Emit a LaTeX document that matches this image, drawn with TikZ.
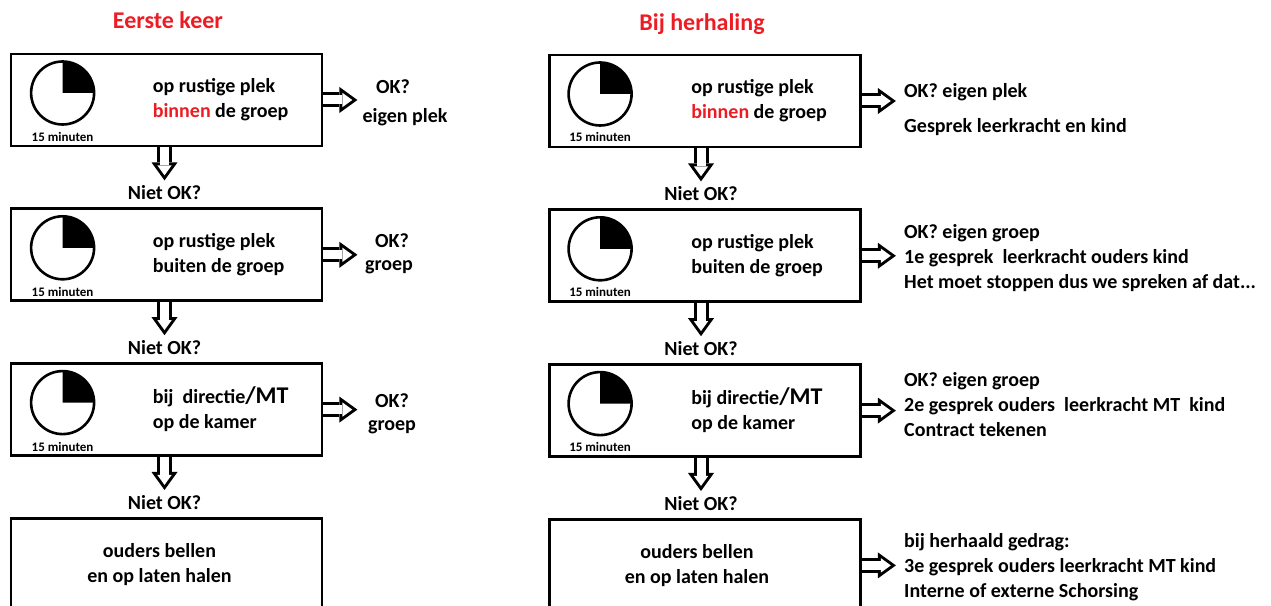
\documentclass[tikz,border=0pt]{standalone}
\usepackage{fontspec}
\setmainfont{Carlito}
\usetikzlibrary{arrows.meta,positioning,calc}
\definecolor{rood}{RGB}{237,28,36}
\tikzset{
  blok/.style={draw, line width=2.8pt, minimum width=311pt, minimum height=92pt},
  tekst/.style={font=\bfseries\fontsize{20}{25}\selectfont, inner sep=0pt},
  klein/.style={font=\bfseries\fontsize{13}{15}\selectfont, inner sep=0pt},
  titel/.style={font=\bfseries\fontsize{24}{28}\selectfont, text=rood, inner sep=0pt},
  pijl/.style={line width=15pt, -{Triangle[length=18pt,width=26pt,line width=0pt]},
    postaction={draw=white, line width=9pt, shorten >=5.1pt, -{Triangle[length=9.9pt,width=14.3pt,line width=0pt]}}}
}

\begin{document}
\begin{tikzpicture}[x=1pt, y=1pt]
\useasboundingbox (0,0) rectangle (1271,605);

\node[titel] (t1) at (168,585) {Eerste keer};
\node[titel] (t2) at (702,581) {Bij herhaling};

% eerste keer
\node[blok] (L1) at (166.5,505) {};
\node[blok, below=60pt of L1] (L2) {};
\node[blok, below=60pt of L2] (L3) {};
\node[blok, below=60pt of L3] (L4) {};

\coordinate (kL1) at ($(L1.west)+(53,7)$);
\coordinate (kL2) at ($(L2.west)+(53,7)$);
\coordinate (kL3) at ($(L3.west)+(53,7)$);
\fill (kL1) -- ++(0,31.5) arc[start angle=90, end angle=0, radius=31.5pt] -- cycle;
\fill (kL2) -- ++(0,31.5) arc[start angle=90, end angle=0, radius=31.5pt] -- cycle;
\fill (kL3) -- ++(0,31.5) arc[start angle=90, end angle=0, radius=31.5pt] -- cycle;
\draw[line width=2.6pt] (kL1) circle[radius=31.5pt];
\draw[line width=2.6pt] (kL2) circle[radius=31.5pt];
\draw[line width=2.6pt] (kL3) circle[radius=31.5pt];
\node[klein] (mL1) at ($(kL1)+(0,-44)$) {15 minuten};
\node[klein] (mL2) at ($(kL2)+(0,-44)$) {15 minuten};
\node[klein] (mL3) at ($(kL3)+(0,-44)$) {15 minuten};

\node[tekst, anchor=west, align=left] (xL1) at ($(L1.west)+(143,0)$) {op rustige plek\\\textcolor{rood}{binnen} de groep};
\node[tekst, anchor=west, align=left] (xL2) at ($(L2.west)+(143,0)$) {op rustige plek\\buiten de groep};
\node[tekst, anchor=west, align=left] (xL3) at ($(L3.west)+(143,0)$) {bij\ \ directie{\fontsize{24}{25}\selectfont/MT}\\op de kamer};
\node[tekst, align=center] (xL4) at ($(L4.center)+(-7,0)$) {ouders bellen\\en op laten halen};

\coordinate (eL1) at ($(L1.east)+(34,0)$);
\coordinate (eL2) at ($(L2.east)+(34,0)$);
\coordinate (eL3) at ($(L3.east)+(34,0)$);
\draw[pijl] (L1.east) -- (eL1);
\draw[pijl] (L2.east) -- (eL2);
\draw[pijl] (L3.east) -- (eL3);

\node[tekst] (okL1) at (393,518) {OK?};
\node[tekst] (naL1) at (405,488) {eigen plek};
\node[tekst] (okL2) at (392,364) {OK?};
\node[tekst] (naL2) at (389,338) {groep};
\node[tekst] (okL3) at (392,204) {OK?};
\node[tekst] (naL3) at (392,178) {groep};

\coordinate (sL1) at ([xshift=-2pt]L1.south);
\coordinate (sL2) at ([xshift=-2pt]L2.south);
\coordinate (sL3) at ([xshift=-2pt]L3.south);
\coordinate (pL1) at ($(sL1)+(0,-33)$);
\coordinate (pL2) at ($(sL2)+(0,-33)$);
\coordinate (pL3) at ($(sL3)+(0,-33)$);
\draw[pijl] (sL1) -- (pL1);
\draw[pijl] (sL2) -- (pL2);
\draw[pijl] (sL3) -- (pL3);
\node[tekst, below=5pt of pL1] (nL1) {Niet OK?};
\node[tekst, below=5pt of pL2] (nL2) {Niet OK?};
\node[tekst, below=5pt of pL3] (nL3) {Niet OK?};

% bij herhaling
\node[blok] (R1) at (705,504) {};
\node[blok, below=60pt of R1] (R2) {};
\node[blok, below=60pt of R2] (R3) {};
\node[blok, below=60pt of R3] (R4) {};

\coordinate (kR1) at ($(R1.west)+(52,7)$);
\coordinate (kR2) at ($(R2.west)+(52,7)$);
\coordinate (kR3) at ($(R3.west)+(52,7)$);
\fill (kR1) -- ++(0,31.5) arc[start angle=90, end angle=0, radius=31.5pt] -- cycle;
\fill (kR2) -- ++(0,31.5) arc[start angle=90, end angle=0, radius=31.5pt] -- cycle;
\fill (kR3) -- ++(0,31.5) arc[start angle=90, end angle=0, radius=31.5pt] -- cycle;
\draw[line width=2.6pt] (kR1) circle[radius=31.5pt];
\draw[line width=2.6pt] (kR2) circle[radius=31.5pt];
\draw[line width=2.6pt] (kR3) circle[radius=31.5pt];
\node[klein] (mR1) at ($(kR1)+(0,-43)$) {15 minuten};
\node[klein] (mR2) at ($(kR2)+(0,-43)$) {15 minuten};
\node[klein] (mR3) at ($(kR3)+(0,-43)$) {15 minuten};

\node[tekst, anchor=west, align=left] (xR1) at ($(R1.west)+(143,0)$) {op rustige plek\\\textcolor{rood}{binnen} de groep};
\node[tekst, anchor=west, align=left] (xR2) at ($(R2.west)+(143,0)$) {op rustige plek\\buiten de groep};
\node[tekst, anchor=west, align=left] (xR3) at ($(R3.west)+(143,0)$) {bij directie{\fontsize{24}{25}\selectfont/MT}\\op de kamer};
\node[tekst, align=center] (xR4) at ($(R4.center)+(-8,0)$) {ouders bellen\\en op laten halen};

\coordinate (eR1) at ($(R1.east)+(34,0)$);
\coordinate (eR2) at ($(R2.east)+(34,0)$);
\coordinate (eR3) at ($(R3.east)+(34,0)$);
\coordinate (eR4) at ($(R4.east)+(34,0)$);
\draw[pijl] (R1.east) -- (eR1);
\draw[pijl] (R2.east) -- (eR2);
\draw[pijl] (R3.east) -- (eR3);
\draw[pijl] (R4.east) -- (eR4);

\node[tekst, anchor=west] (okR1) at (904,513) {OK? eigen plek};
\node[tekst, anchor=west] (gR1) at (904,478) {Gesprek leerkracht en kind};
\node[tekst, anchor=west, align=left] (gR2) at (904,346.5) {OK? eigen groep\\1e gesprek\ \ leerkracht ouders kind\\Het moet stoppen dus we spreken af dat...};
\node[tekst, anchor=west, align=left] (gR3) at (904,200) {OK? eigen groep\\2e gesprek ouders\ \ leerkracht MT\ \ kind\\Contract tekenen};
\node[tekst, anchor=west, align=left] (gR4) at (904,38) {bij herhaald gedrag:\\3e gesprek ouders leerkracht MT kind\\Interne of externe Schorsing};

\coordinate (sR1) at ([xshift=-4pt]R1.south);
\coordinate (sR2) at ([xshift=-4pt]R2.south);
\coordinate (sR3) at ([xshift=-4pt]R3.south);
\coordinate (pR1) at ($(sR1)+(0,-33)$);
\coordinate (pR2) at ($(sR2)+(0,-33)$);
\coordinate (pR3) at ($(sR3)+(0,-33)$);
\draw[pijl] (sR1) -- (pR1);
\draw[pijl] (sR2) -- (pR2);
\draw[pijl] (sR3) -- (pR3);
\node[tekst, below=5pt of pR1] (nR1) {Niet OK?};
\node[tekst, below=5pt of pR2] (nR2) {Niet OK?};
\node[tekst, below=5pt of pR3] (nR3) {Niet OK?};
\end{tikzpicture}
\end{document}
